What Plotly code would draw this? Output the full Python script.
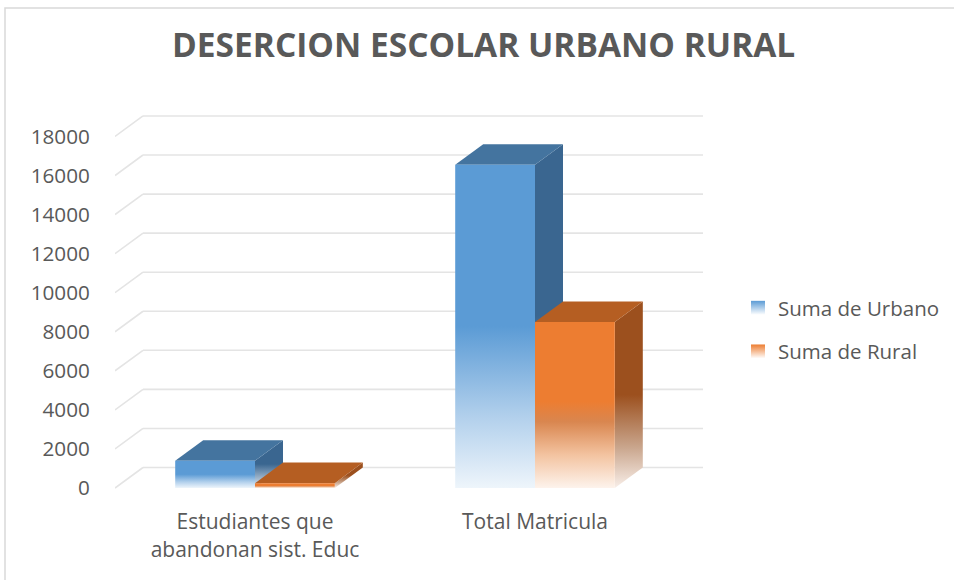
import plotly.graph_objects as go

# ---- data ----
categories = ["Estudiantes que<br>abandonan sist. Educ", "Total Matricula"]
series_names = ["Suma de Urbano", "Suma de Rural"]
urbano = [1400, 16550]
rural = [250, 8500]
y_ticks = list(range(0, 18001, 2000))

# ---- styling ----
TEXT = "#595959"
FONT = "Open Sans"
BAR_W = 0.285      # width of one column (x units)
DX = 0.1           # depth offset along x (x units)
DY = 1050          # depth offset along y (y units)
GRID = "#E4E4E4"

styles = {
    "Suma de Urbano": dict(
        front=[[0, "#EEF5FB"], [0.22, "#B2D0EC"], [0.5, "#5B9BD5"], [1, "#5B9BD5"]],
        side=[[0, "#E6EEF6"], [0.25, "#8FA9C2"], [0.5, "#3A6690"], [1, "#3A6690"]],
        top="#44749F",
        solid="#5B9BD5",
    ),
    "Suma de Rural": dict(
        front=[[0, "#FDF3EC"], [0.2, "#F3C3A0"], [0.4, "#D9864F"], [0.52, "#ED7D31"], [1, "#ED7D31"]],
        side=[[0, "#F8EEE8"], [0.22, "#C9A58C"], [0.5, "#9C501E"], [1, "#9C501E"]],
        top="#B55E22",
        solid="#ED7D31",
    ),
}

fig = go.Figure()

# ---- 3D wall gridlines: back-wall horizontals and floor-to-wall diagonals ----
x_left, x_right = -0.5, 1.5 + DX
back_x, back_y, diag_x, diag_y = [], [], [], []
for v in y_ticks:
    back_x += [x_left + DX, x_right, None]
    back_y += [v + DY, v + DY, None]
    diag_x += [x_left, x_left + DX, None]
    diag_y += [v, v + DY, None]
for gx, gy in ((back_x, back_y), (diag_x, diag_y)):
    fig.add_trace(go.Scatter(x=gx, y=gy, mode="lines", line=dict(color=GRID, width=1.6),
                             hoverinfo="skip", showlegend=False))


def face(xs, ys, fill, gradient=None):
    kw = dict(x=xs + [xs[0]], y=ys + [ys[0]], mode="lines", fill="toself",
              line=dict(width=0), hoverinfo="skip", showlegend=False)
    if gradient is None:
        kw["fillcolor"] = fill
    else:
        kw["fillgradient"] = dict(type="vertical", colorscale=gradient)
    fig.add_trace(go.Scatter(**kw))


# ---- columns (front, side and top faces) ----
series_values = {"Suma de Urbano": urbano, "Suma de Rural": rural}
for ci in range(len(categories)):
    for si, name in enumerate(series_names):
        v = series_values[name][ci]
        st = styles[name]
        xl = ci - BAR_W + si * BAR_W
        xr = xl + BAR_W
        # side face
        face([xr, xr + DX, xr + DX, xr], [0, DY, v + DY, v], None, st["side"])
        # top face
        face([xl, xr, xr + DX, xl + DX], [v, v, v + DY, v + DY], st["top"])
        # front face
        face([xl, xr, xr, xl], [0, 0, v, v], None, st["front"])

# ---- legend entries ----
for name in series_names:
    fig.add_trace(go.Scatter(
        x=[None], y=[None], mode="markers", name=name, legendgroup=name,
        marker=dict(symbol="square", size=14, color=styles[name]["solid"],
                    gradient=dict(type="vertical", color="#FFFFFF"), line=dict(width=0)),
    ))

# chart-area border
fig.add_shape(type="rect", xref="paper", yref="paper",
              x0=(5 - 115) / 588, x1=(960 - 115) / 588,
              y0=(500 - 600) / 400, y1=(500 - 8) / 400,
              line=dict(color="#D9D9D9", width=1.5), fillcolor="rgba(0,0,0,0)", layer="below")

fig.update_layout(
    width=954, height=580,
    margin=dict(l=115, r=251, t=100, b=80),
    paper_bgcolor="white", plot_bgcolor="white",
    font=dict(family=FONT, color=TEXT, size=20.7),
    title=dict(text="<b>DESERCION ESCOLAR URBANO RURAL</b>", x=0.507, xanchor="center",
               y=1 - 45 / 580, yanchor="middle",
               font=dict(family=FONT, size=33.5, color=TEXT)),
    xaxis=dict(range=[x_left, x_right], tickvals=[0, 1], ticktext=categories,
               showgrid=False, zeroline=False, showline=False,
               ticks="outside", ticklen=3, tickcolor="rgba(0,0,0,0)",
               tickfont=dict(size=21, color=TEXT), fixedrange=True),
    yaxis=dict(range=[-614, 19867], tickvals=y_ticks, ticktext=[str(t) for t in y_ticks],
               showgrid=False, zeroline=False, showline=False,
               ticks="outside", ticklen=20, tickcolor="rgba(0,0,0,0)",
               tickfont=dict(size=20.7, color=TEXT), fixedrange=True),
    legend=dict(xref="container", yref="container",
                x=738 / 954, y=1 - 288 / 580, xanchor="left", yanchor="top",
                traceorder="grouped", tracegroupgap=14,
                font=dict(size=20.5, color=TEXT), bgcolor="rgba(0,0,0,0)"),
    showlegend=True,
)

fig.write_html("out.html")
